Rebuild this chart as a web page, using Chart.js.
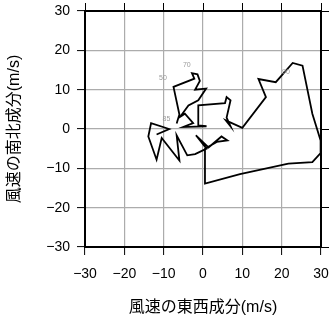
<!DOCTYPE html>
<html>
<head>
<meta charset="utf-8">
<script src="https://cdn.jsdelivr.net/npm/chart.js@4.4.0/dist/chart.umd.min.js"></script>
<style>
  body { margin: 0; background: #fff; }
  canvas { display: block; }
</style>
</head>
<body>
<canvas id="hodo" width="331" height="318"></canvas>
<script>
// wind components along the trace (m/s)
const windU = [-6.7, -6.0, -7.5, -2.2, -2.8, -1.4, -0.8, -2.0, 0.8, -1.2, -3.7, -5.8, -4.6, -2.5, -5.0, 0.9, -1.2, -1.2,
  5.6, 6.0, 7.0, 6.0, 7.0, 5.8, 10.0, 16.0, 14.1, 18.5, 22.8, 25.3, 27.8, 29.9, 29.9, 27.8, 21.7, 9.4, 0.5, 0.5,
  3.5, 6.2, 4.7, 1.4, -1.8, 0.9, -2.0, -4.0, -6.7, -6.0, -10.5, -11.8, -13.9, -13.2, -8.6, -11.8];
const windV = [1.4, 3.7, 10.7, 12.8, 14.2, 13.9, 12.2, 10.0, 10.3, 7.3, 6.0, 3.1, 3.9, 1.5, 0.5, 0.7, 0.9, 6.0,
  6.6, 8.1, 7.3, 2.9, 0.7, 2.2, 0.3, 8.1, 12.7, 11.9, 16.8, 16.1, 3.9, -2.9, -6.1, -8.4, -8.8, -11.5, -13.9, -5.0,
  -3.3, -2.9, -1.9, -4.7, -1.6, -5.0, -6.4, -6.7, -1.6, -8.0, -2.3, -7.8, -1.9, 1.5, 0.0, -1.4];

// small level labels along the trace
const markText = ["50", "70", "85", "90"];
const markU = [-10.2, -4.1, -9.3, 21.1];
const markV = [12.9, 16.3, 2.6, 14.4];

const axisMin = -30;
const axisMax = 30;
const axisStep = 10;

let points = [];
for (let i = 0; i < windU.length; i++) {
  points.push({ x: windU[i], y: windV[i] });
}

const markLabels = {
  id: "markLabels",
  afterDatasetsDraw(chart) {
    const ctx = chart.ctx;
    const xs = chart.scales.x;
    const ys = chart.scales.y;
    ctx.save();
    ctx.font = "7px 'Liberation Sans', sans-serif";
    ctx.fillStyle = "#9a9a9a";
    ctx.textAlign = "center";
    ctx.textBaseline = "middle";
    for (let i = 0; i < markText.length; i++) {
      ctx.fillText(markText[i], xs.getPixelForValue(markU[i]), ys.getPixelForValue(markV[i]));
    }
    ctx.restore();
  }
};

function minusSign(v) {
  return String(v).replace("-", "\u2212");
}

// fixed axis boxes so the plot area sits where the reference has it
function fixBox(size, horizontal) {
  return function (s) {
    if (horizontal) s.height = size; else s.width = size;
    s.paddingLeft = 0;
    s.paddingRight = 0;
    s.paddingTop = 0;
    s.paddingBottom = 0;
  };
}

const tickFont = { family: "'Liberation Sans', Arial, sans-serif", size: 14 };
const titleFont = { family: "'Liberation Sans', 'Noto Sans CJK JP', sans-serif", size: 16 };
const gridOpts = { color: "#acacac", lineWidth: 1.2, tickColor: "#000", tickLength: 8, tickWidth: 1 };
const borderOpts = { display: true, color: "#000", width: 2 };

new Chart(document.getElementById("hodo"), {
  type: "scatter",
  data: {
    datasets: [{
      data: points,
      showLine: true,
      borderColor: "#000",
      borderWidth: 1.8,
      pointRadius: 0,
      tension: 0
    }]
  },
  options: {
    responsive: false,
    devicePixelRatio: 1,
    animation: false,
    layout: { padding: 0 },
    plugins: { legend: { display: false }, tooltip: { enabled: false } },
    scales: {
      x: {
        type: "linear", position: "bottom", min: axisMin, max: axisMax,
        ticks: { stepSize: axisStep, color: "#000", font: tickFont, padding: 11, maxRotation: 0, callback: minusSign },
        grid: gridOpts, border: borderOpts,
        title: { display: true, text: "風速の東西成分(m/s)", color: "#000", font: titleFont, padding: { top: 0, bottom: 1 } },
        afterFit: fixBox(71, true)
      },
      y: {
        type: "linear", position: "left", min: axisMin, max: axisMax,
        ticks: { stepSize: axisStep, color: "#000", font: tickFont, padding: 7, callback: minusSign },
        grid: gridOpts, border: borderOpts,
        title: { display: true, text: "風速の南北成分(m/s)", color: "#000", font: titleFont, padding: { top: 5, bottom: 0 } },
        afterFit: fixBox(85, false)
      },
      x2: {
        type: "linear", position: "top", min: axisMin, max: axisMax,
        ticks: { stepSize: axisStep, display: false },
        grid: { drawOnChartArea: false, tickColor: "#000", tickLength: 8 }, border: borderOpts,
        afterFit: fixBox(11, true)
      },
      y2: {
        type: "linear", position: "right", min: axisMin, max: axisMax,
        ticks: { stepSize: axisStep, display: false },
        grid: { drawOnChartArea: false, tickColor: "#000", tickLength: 8 }, border: borderOpts,
        afterFit: fixBox(10, false)
      }
    }
  },
  plugins: [markLabels]
});
</script>
</body>
</html>
